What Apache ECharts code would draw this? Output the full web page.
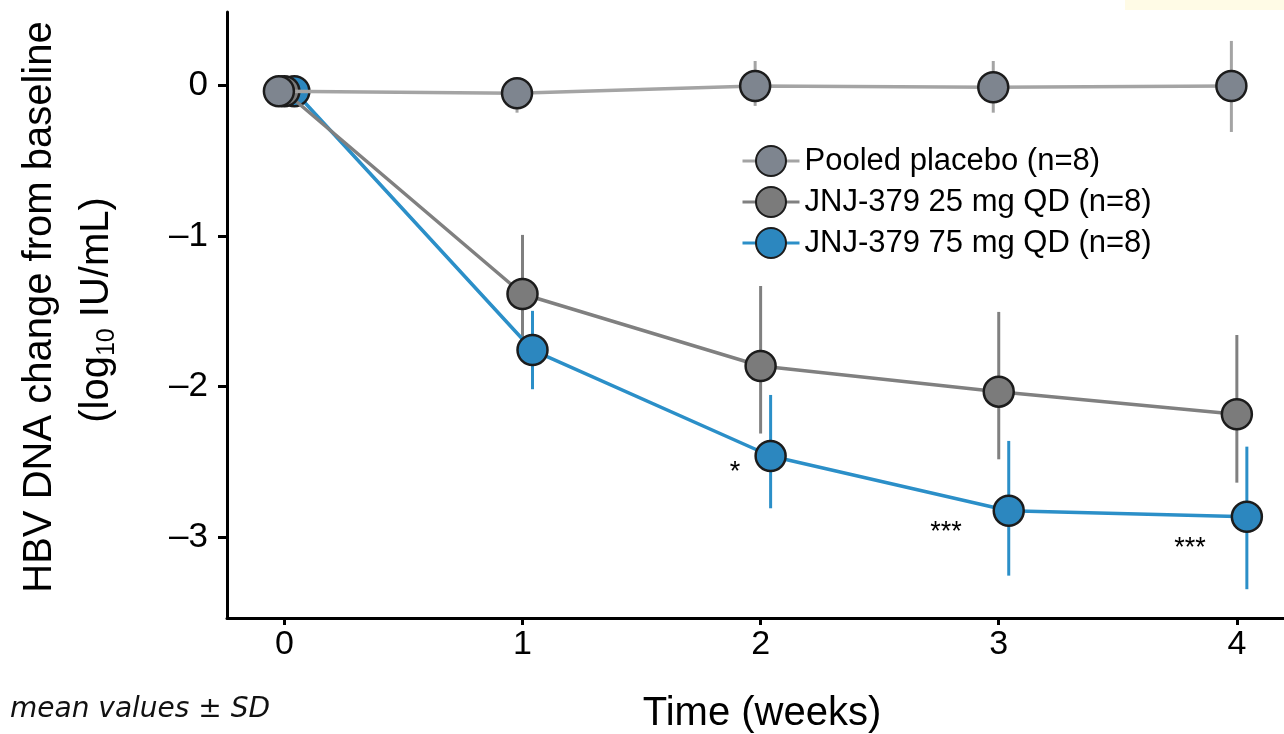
<!DOCTYPE html>
<html>
<head>
<meta charset="utf-8">
<script src="https://cdn.jsdelivr.net/npm/echarts@6/dist/echarts.min.js"></script>
<style>
  html, body { margin: 0; padding: 0; background: #ffffff; }
  #chart { width: 1284px; height: 734px; }
</style>
</head>
<body>
<div id="chart"></div>
<script>
// Visit weeks and group labels
const weeks = [0, 1, 2, 3, 4];
const seriesNames = ['Pooled placebo (n=8)', 'JNJ-379 25 mg QD (n=8)', 'JNJ-379 75 mg QD (n=8)'];

// Mean change from baseline (log10 IU/mL) and mean ± SD limits per visit
const placeboMean = [-0.04, -0.053, -0.005, -0.013, -0.005];
const placeboLow  = [null, -0.182, -0.137, -0.182, -0.310];
const placeboHigh = [null, 0.048, 0.161, 0.161, 0.294];

const mg25Mean = [-0.04, -1.385, -1.863, -2.033, -2.183];
const mg25Low  = [null, -1.777, -2.311, -2.482, -2.637];
const mg25High = [null, -0.993, -1.332, -1.504, -1.657];

const mg75Mean = [-0.04, -1.757, -2.460, -2.823, -2.863];
const mg75Low  = [null, -2.017, -2.807, -3.254, -3.344];
const mg75High = [null, -1.497, -2.055, -2.360, -2.398];

// Axis tick values
const xTicks = [0, 1, 2, 3, 4];
const yTicks = [0, -1, -2, -3];

// Significance marks vs placebo: [week, level, text]
const significance = [
  [1.892, -2.57, '*'],
  [2.779, -2.97, '***'],
  [3.803, -3.073, '***']
];

const FONT = '"Liberation Sans", Arial, Helvetica, sans-serif';

// Per-group drawing style; dodge shifts markers sideways so they do not overlap
const groups = [
  { name: seriesNames[0], mean: placeboMean, low: placeboLow, high: placeboHigh,
    dodge: -0.023, fill: '#7e858f', line: '#a4a4a4', bar: '#a4a4a4', z: 6 },
  { name: seriesNames[1], mean: mg25Mean, low: mg25Low, high: mg25High,
    dodge: 0.0, fill: '#7b7b7b', line: '#808080', bar: '#808080', z: 5 },
  { name: seriesNames[2], mean: mg75Mean, low: mg75Low, high: mg75High,
    dodge: 0.042, fill: '#2c87bf', line: '#2b8fc8', bar: '#2b8fc8', z: 4 }
];

const series = [];

// SD whiskers sit beneath every marker
groups.forEach(function (g, k) {
  const bars = [];
  weeks.forEach(function (w, i) {
    if (g.low[i] !== null) bars.push([w + g.dodge, g.low[i], g.high[i]]);
  });
  series.push({
    type: 'custom',
    name: 'sd-' + k,
    silent: true,
    animation: false,
    z: 1,
    data: bars,
    renderItem: function (params, api) {
      const a = api.coord([api.value(0), api.value(1)]);
      const b = api.coord([api.value(0), api.value(2)]);
      return {
        type: 'line',
        shape: { x1: a[0], y1: a[1], x2: b[0], y2: b[1] },
        style: { stroke: g.bar, lineWidth: 3 }
      };
    }
  });
});

// Mean trajectories, high-dose drawn first so placebo sits on top at baseline
groups.slice().reverse().forEach(function (g) {
  series.push({
    type: 'line',
    name: g.name,
    animation: false,
    silent: true,
    z: g.z,
    symbol: 'circle',
    symbolSize: 30,
    data: weeks.map(function (w, i) { return [w + g.dodge, g.mean[i]]; }),
    lineStyle: { color: g.line, width: 3.5 },
    itemStyle: { color: g.fill, borderColor: '#1c1c1c', borderWidth: 2.5 },
    emphasis: { disabled: true }
  });
});

// Asterisks marking significance
series.push({
  type: 'custom',
  name: 'significance',
  silent: true,
  animation: false,
  z: 8,
  data: significance,
  renderItem: function (params, api) {
    const p = api.coord([api.value(0), api.value(1)]);
    return {
      type: 'text',
      x: p[0], y: p[1],
      style: {
        text: significance[params.dataIndex][2],
        fontSize: 27, fontFamily: FONT, fill: '#000',
        align: 'center', verticalAlign: 'middle'
      }
    };
  }
});

const chart = echarts.init(document.getElementById('chart'), null, { renderer: 'canvas' });

chart.setOption({
  backgroundColor: '#ffffff',
  animation: false,
  grid: { left: 227, right: 0, top: 12, bottom: 116, containLabel: false },
  xAxis: {
    type: 'value',
    min: -0.241,
    max: 4.198,
    axisLine: { onZero: false, lineStyle: { color: '#000', width: 3 } },
    axisTick: { customValues: xTicks, length: 7, lineStyle: { color: '#000', width: 3 } },
    axisLabel: { customValues: xTicks, fontSize: 34, color: '#000', fontFamily: FONT, margin: 10 },
    splitLine: { show: false }
  },
  yAxis: {
    type: 'value',
    min: -3.535,
    max: 0.486,
    axisLine: { show: true, onZero: false, lineStyle: { color: '#000', width: 3 } },
    axisTick: { show: true, customValues: yTicks, length: 9, lineStyle: { color: '#000', width: 3 } },
    axisLabel: {
      customValues: yTicks, fontSize: 35, color: '#000', fontFamily: FONT, margin: 19,
      formatter: function (v) { return v < 0 ? '\u2013' + Math.abs(v) : String(v); }
    },
    splitLine: { show: false }
  },
  legend: {
    data: seriesNames,
    orient: 'vertical',
    left: 736,
    top: 137,
    itemWidth: 57,
    itemHeight: 37.5,
    itemGap: 3,
    itemTextGap: 13,
    selectedMode: false,
    lineStyle: { width: 3 },
    textStyle: { fontSize: 31, color: '#000', fontFamily: FONT, lineHeight: 38 }
  },
  series: series,
  graphic: [
    { type: 'rect', left: 1125, top: 0, shape: { width: 159, height: 10 },
      style: { fill: '#fffbe6' }, silent: true, z: 0 },
    { type: 'text', x: 40, y: 307, rotation: Math.PI / 2, silent: true,
      style: { text: 'HBV DNA change from baseline', fontSize: 40, fontFamily: FONT,
               fill: '#000', align: 'center', verticalAlign: 'middle' } },
    { type: 'text', x: 97, y: 310, rotation: Math.PI / 2, silent: true,
      style: { text: '{a|(log}{s|10}{a| IU/mL)}', fill: '#000', align: 'center', verticalAlign: 'middle',
               rich: {
                 a: { fontSize: 40, lineHeight: 46, fontFamily: FONT, fill: '#000' },
                 s: { fontSize: 25, lineHeight: 25, fontFamily: FONT, fill: '#000', verticalAlign: 'bottom' }
               } } },
    { type: 'text', x: 762, y: 714, silent: true,
      style: { text: 'Time (weeks)', fontSize: 40, fontFamily: FONT, fill: '#000',
               align: 'center', verticalAlign: 'middle' } },
    { type: 'text', x: 10, y: 710, silent: true,
      style: { text: 'mean values \u00b1 SD', fontSize: 28, fontStyle: 'italic',
               fontFamily: '"DejaVu Sans", Verdana, sans-serif', fill: '#111',
               align: 'left', verticalAlign: 'middle' } }
  ]
});
</script>
</body>
</html>
